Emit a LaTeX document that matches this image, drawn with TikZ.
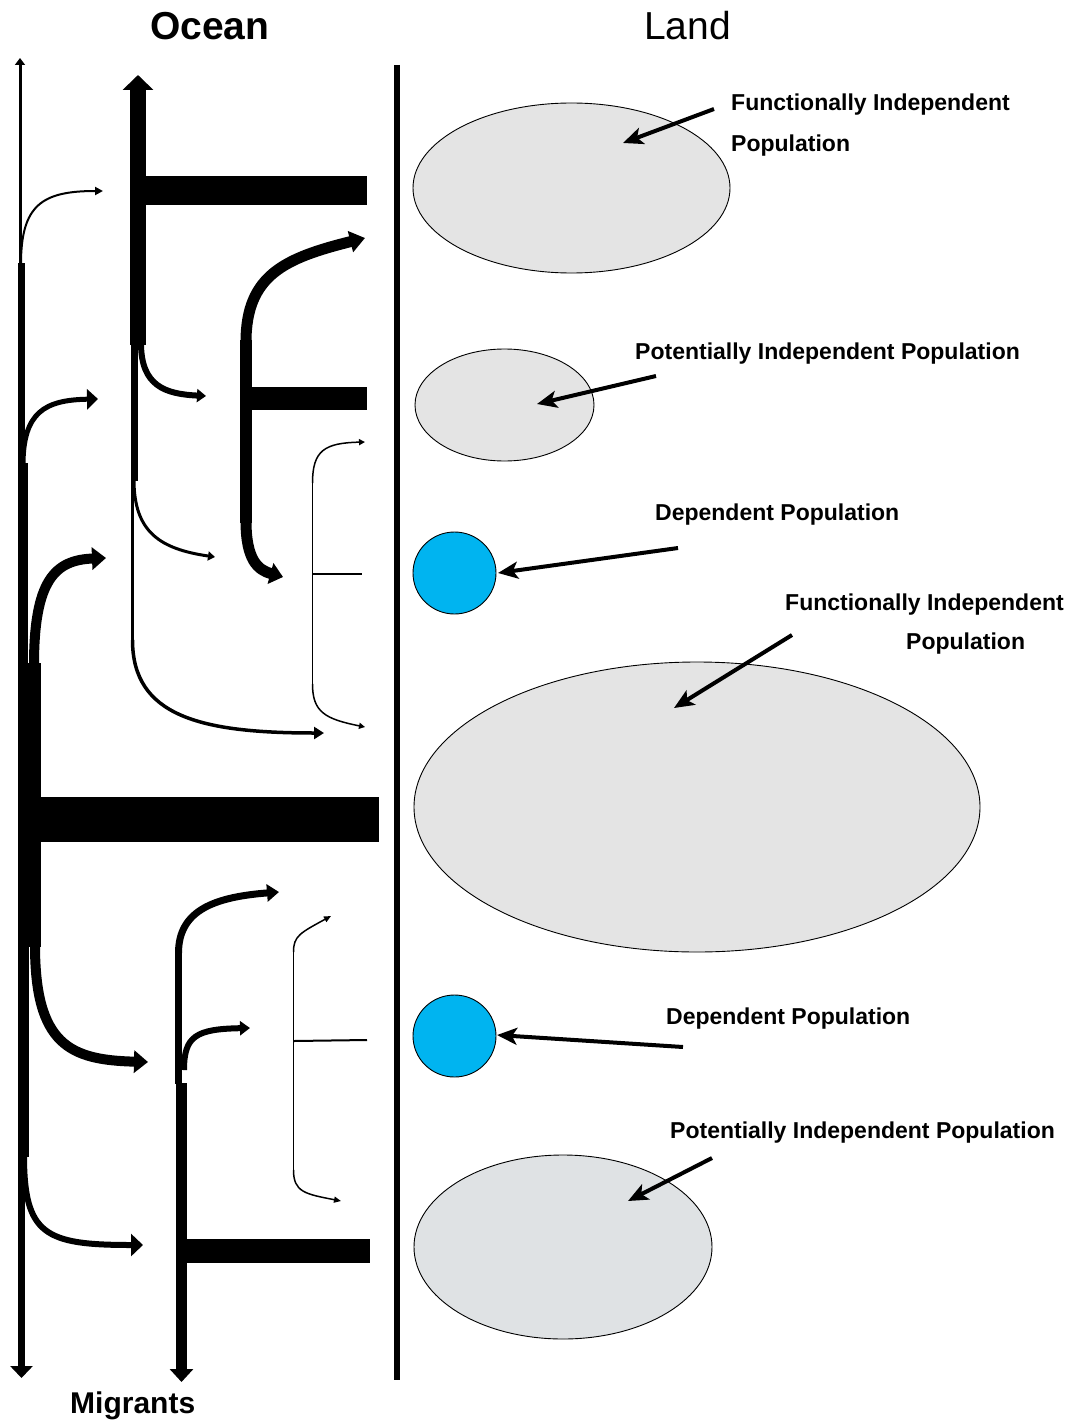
\documentclass[tikz,border=0pt]{standalone}
\usepackage{fontspec}
\setmainfont{Liberation Sans}
\usetikzlibrary{arrows.meta,shapes.geometric}
\definecolor{popgray}{RGB}{228,228,228}
\definecolor{popgrayb}{RGB}{223,226,228}
\definecolor{depblue}{RGB}{0,180,240}
\begin{document}
\begin{tikzpicture}[x=1pt,y=-1pt,
  pop/.style={ellipse, draw=black, line width=0.9pt, fill=popgray, inner sep=0pt},
  dep/.style={ellipse, draw=black, line width=0.9pt, fill=depblue, inner sep=0pt, minimum width=83pt, minimum height=82pt},
  lbl/.style={font=\bfseries\fontsize{23}{27}\selectfont, anchor=base west, inner sep=0pt},
  pointer/.style={line width=4pt, -{Stealth[length=20pt,width=17pt,inset=5pt]}},
  thin/.style={line width=1.5pt},
]
\fill[white] (0,0) rectangle (1075,1423);
\useasboundingbox (0,0) rectangle (1075,1423);

% titles
\node[font=\bfseries\fontsize{39}{44}\selectfont, anchor=base west, inner sep=0pt] (ocean) at (150,40) {Ocean};
\node[font=\fontsize{39}{44}\selectfont, anchor=base west, inner sep=0pt] (land) at (644,40) {Land};
\node[font=\bfseries\fontsize{30}{34}\selectfont, anchor=base west, inner sep=0pt] (migrants) at (70,1413) {Migrants};

% separator
\draw[line width=6pt] (396.5,65) -- (396.5,1380);

% ---------- left stem ----------
\draw[line width=3pt,-{Triangle[length=7pt,width=10pt]}] (20,264) -- (20,58);
\fill (18,263) rectangle (25,463);
\fill (18,463) rectangle (28,663);
\fill (18,663) rectangle (41,947);
\fill (18,947) rectangle (29,1157);
\draw[line width=7pt,-{Triangle[length=12pt,width=22pt]}] (21.5,1156) -- (21.5,1378);
% branches
\draw[line width=2pt,-{Triangle[length=8pt,width=8pt]}] (21,264) .. controls (21,205) and (42,191) .. (103,191);
\draw[line width=5pt,-{Triangle[length=11pt,width=20pt]}] (23,465) .. controls (23,412) and (45,400) .. (98,399);
\draw[line width=10pt,-{Triangle[length=14pt,width=22pt]}] (34,665) .. controls (34,580) and (55,560) .. (106,558);
\draw[line width=10pt,-{Triangle[length=14pt,width=22pt]}] (35,945) .. controls (35,1045) and (70,1060) .. (148,1062);
\draw[line width=6pt,-{Triangle[length=12pt,width=22pt]}] (24,1155) .. controls (24,1235) and (45,1245) .. (143,1245);
% trunk bar
\fill (18,797) rectangle (379,842);

% ---------- second stem ----------
\draw[line width=16pt,-{Triangle[length=15pt,width=30pt]}] (138,345) -- (138,75);
\fill (131,343) rectangle (138,481);
\fill (131,480) rectangle (134,642);
\fill (145,176) rectangle (367,205);
\draw[line width=6pt,-{Triangle[length=9pt,width=13pt]}] (141,343) .. controls (141,386) and (165,394) .. (206,396);
\draw[line width=3pt,-{Triangle[length=7pt,width=9pt]}] (134,480) .. controls (134,532) and (160,549) .. (215,557);
\draw[line width=3.5pt,-{Triangle[length=10pt,width=12pt]}] (132.5,640) .. controls (132.5,716) and (200,733) .. (324,733);

% ---------- third stem ----------
\fill (240,340) rectangle (252,523);
\draw[line width=11pt,-{Triangle[length=15pt,width=21pt]}] (246,342) .. controls (246,275) and (285,258) .. (365,238);
\draw[line width=11pt,-{Triangle[length=13pt,width=21pt]}] (246,521) .. controls (246,560) and (258,570) .. (283,577);
\fill (250,387) rectangle (367,410);

% ---------- fourth (thin) stem ----------
\draw[thin] (312.5,482) -- (312.5,685);
\draw[thin,-{Triangle[length=6pt,width=6pt]}] (312.5,483) .. controls (312.5,450) and (325,443) .. (365,442);
\draw[thin] (313,574) -- (362,574);
\draw[thin,-{Triangle[length=6pt,width=6pt]}] (312.5,684) .. controls (312.5,712) and (325,719) .. (365,727);

% ---------- lower stem ----------
\fill (175,950) rectangle (182,1084);
\draw[line width=11pt,-{Triangle[length=13pt,width=23pt]}] (181.5,1083) -- (181.5,1382);
\draw[line width=7pt,-{Triangle[length=12pt,width=17pt]}] (178.5,953) .. controls (178.5,910) and (215,897) .. (279,892);
\draw[line width=6pt,-{Triangle[length=10pt,width=14pt]}] (184,1070) .. controls (184,1036) and (196,1029) .. (250,1028);
\fill (187,1239) rectangle (370,1263);

% ---------- lower thin stem ----------
\draw[thin] (293.5,950) -- (293.5,1173);
\draw[thin,-{Triangle[length=7pt,width=6pt]}] (293.5,952) .. controls (293.5,936) and (300,933) .. (331,916);
\draw[line width=2pt] (294,1041) -- (367,1040);
\draw[thin,-{Triangle[length=7pt,width=6pt]}] (293.5,1170) .. controls (293.5,1192) and (305,1194) .. (341,1201);

% ---------- populations ----------
\node[pop, minimum width=317pt, minimum height=170pt] (fi1) at (571.5,188) {};
\node[pop, minimum width=179pt, minimum height=112pt] (pi1) at (504.5,405) {};
\node[dep] (d1) at (454.5,573) {};
\node[pop, minimum width=566pt, minimum height=290pt] (fi2) at (697,807) {};
\node[dep] (d2) at (454.5,1036) {};
\node[pop, fill=popgrayb, minimum width=298pt, minimum height=184pt] (pi2) at (563,1247) {};

% ---------- labels ----------
\node[lbl] (l1a) at (731,111) {Functionally Independent};
\node[lbl] (l1b) at (731,152) {Population};
\node[lbl] (l2) at (635,359) {Potentially Independent Population};
\node[lbl] (l3) at (655,520) {Dependent Population};
\node[lbl] (l4a) at (785,610) {Functionally Independent};
\node[lbl] (l4b) at (906,649) {Population};
\node[lbl] (l5) at (666,1024) {Dependent Population};
\node[lbl] (l6) at (670,1138) {Potentially Independent Population};

% ---------- pointers ----------
\coordinate (s1) at (714,109);  \coordinate (t1) at (623,143);
\coordinate (s2) at (656,376);  \coordinate (t2) at (537,404);
\coordinate (s3) at (678,548);  \coordinate (t3) at (498,573);
\coordinate (s4) at (792,635);  \coordinate (t4) at (674,708);
\coordinate (s5) at (683,1047); \coordinate (t5) at (497,1035);
\coordinate (s6) at (712,1158); \coordinate (t6) at (628,1201);
\draw[pointer] (s1) -- (t1);
\draw[pointer] (s2) -- (t2);
\draw[pointer] (s3) -- (t3);
\draw[pointer] (s4) -- (t4);
\draw[pointer] (s5) -- (t5);
\draw[pointer] (s6) -- (t6);
\end{tikzpicture}
\end{document}
